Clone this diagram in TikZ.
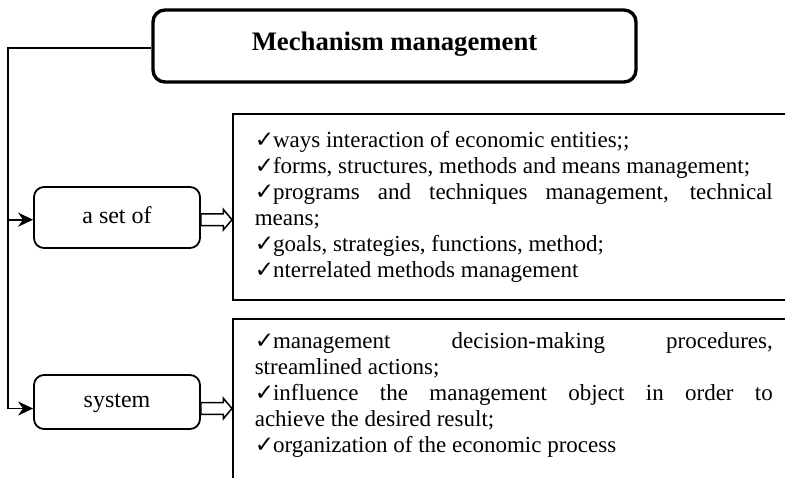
\documentclass[tikz,border=0pt]{standalone}
\usepackage{fontspec}
\setmainfont{Liberation Serif}
\newfontfamily\symfont{DejaVu Sans}
\usetikzlibrary{arrows.meta,calc}
\setlength{\parindent}{0pt}
\hyphenpenalty=10000
\exhyphenpenalty=10000
% check mark in front of every list item
\newcommand{\tick}{{\symfont\fontsize{23}{23}\selectfont ✓}\kern-1pt}
% hollow block arrow running horizontally from #1 to #2
\newcommand{\hollowarrow}[2]{%
  \draw[blockarrow] let \p1=(#1), \p2=(#2) in
    (\x1,\y1+5.8pt) -- (\x2-8.7pt,\y1+5.8pt) -- (\x2-8.7pt,\y1+10.3pt) --
    (\x2,\y1) -- (\x2-8.7pt,\y1-10.3pt) -- (\x2-8.7pt,\y1-5.8pt) --
    (\x1,\y1-5.8pt) -- cycle;}
\tikzset{
  titlebox/.style={draw, line width=3.4pt, rounded corners=12pt,
    minimum width=483pt, minimum height=72pt, inner sep=0pt,
    font=\bfseries\fontsize{26.7}{30}\selectfont,
    text height=18pt, text depth=10pt},
  catbox/.style={draw, line width=1.8pt, rounded corners=10pt,
    minimum width=166pt, inner sep=0pt,
    font=\fontsize{24}{28}\selectfont, text height=16pt, text depth=5pt},
  listbox/.style={draw, line width=1.6pt, anchor=north west,
    inner xsep=22pt, inner ysep=14pt, text width=518pt, align=justify,
    font=\fontsize{23}{26}\selectfont},
  conn/.style={line width=1.6pt},
  tip/.style={conn, -{Stealth[length=15pt,width=14pt]}},
  blockarrow/.style={line width=1.5pt, fill=white, line join=miter},
}
\begin{document}
\begin{tikzpicture}[x=1pt, y=-1pt]
  \useasboundingbox (0,0) rectangle (785,477);

  % heading
  \node[titlebox] (title) at (394.5,46) {Mechanism management};

  % the two groups
  \node[catbox, minimum height=61pt] (set) at (117,217.5) {a set of};
  \node[catbox, minimum height=54pt] (sys) at (117,402) {system};

  % item lists
  \node[listbox, minimum height=186pt] (setlist) at (232,113) {%
    \tick ways interaction of economic entities;;\par
    \tick forms, structures, methods and means management;\par
    \tick programs and techniques management, technical\linebreak means;\par
    \tick goals, strategies, functions, method;\par
    \tick nterrelated methods management};
  \node[listbox] (syslist) at (232,318) {%
    \tick management decision-making procedures,\linebreak streamlined actions;\par
    \tick influence the management object in order to\linebreak achieve the desired result;\par
    \tick organization of the economic process\rule[-30pt]{0pt}{0pt}};

  % trunk on the left
  \coordinate (ttop) at (8,48);
  \coordinate (tset) at (8,219.7);
  \coordinate (tsys) at (8,408.5);
  \draw[conn] ([yshift=-2pt]title.west) -- (ttop) -- (tsys);
  \draw[tip] (tset) -- (tset -| set.west);
  \draw[tip] (tsys) -- (tsys -| sys.west);

  % block arrows to the lists
  \coordinate (aset) at ([yshift=-2.2pt]set.east);
  \coordinate (asys) at ([yshift=-6.5pt]sys.east);
  \hollowarrow{aset}{aset -| setlist.west}
  \hollowarrow{asys}{asys -| syslist.west}
\end{tikzpicture}
\end{document}
